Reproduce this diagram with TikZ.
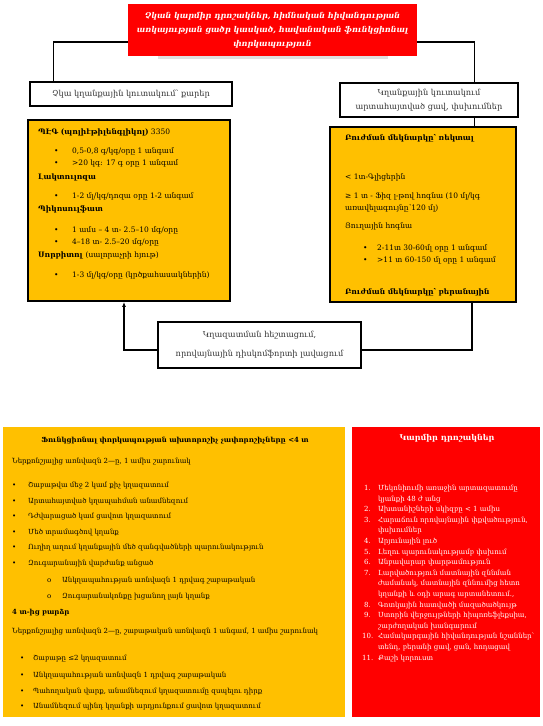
\documentclass[tikz,border=0pt]{standalone}
\usepackage{fontspec}
\setmainfont{DejaVu Serif}
\usetikzlibrary{arrows.meta}
\definecolor{ylw}{RGB}{255,192,0}
\definecolor{rd}{RGB}{255,0,0}
\tikzset{
  tx/.style={anchor=base west, inner sep=0pt, font=\fontsize{7}{8}\selectfont},
  txc/.style={anchor=base, inner sep=0pt, font=\fontsize{7}{8}\selectfont},
  bx/.style={tx, font=\fontsize{7.5}{8}\selectfont},
  wt/.style={text=white},
  hdr/.style={draw, line width=1.4pt, fill=white, inner sep=0pt, align=center, font=\fontsize{8.2}{14}\selectfont, text=black!80},
  ybox/.style={draw, line width=1.8pt, fill=ylw, inner sep=0pt},
  area/.style={inner sep=0pt},
  conn/.style={line width=1.4pt},
}
\begin{document}
\begin{tikzpicture}[x=1pt,y=-1pt]
\useasboundingbox (0,0) rectangle (542,726);
% title
\fill[black!12] (158,55) rectangle (388,59);
\node[area, fill=rd, minimum width=289pt, minimum height=52pt, align=center, text=white,
  font=\fontsize{8}{14}\selectfont\bfseries\itshape] (title) at (272.5,30)
  {Չկան կարմիր դրոշակներ, հիմնական հիվանդության\\առկայության ցածր կասկած, հավանական ֆունկցիոնալ\\փորկապություն};
% header boxes
\node[hdr, minimum width=202pt, minimum height=24pt] (hdrL) at (131,94) {Չկա կղանքային կուտակում՝ քարեր};
\node[hdr, minimum width=178pt, minimum height=34pt] (hdrR) at (429,100) {Կղանքային կուտակում\\արտահայտված ցավ, փսխումներ};
% yellow boxes
\node[ybox, minimum width=202pt, minimum height=181pt] (boxL) at (129,210.5) {};
\node[ybox, minimum width=186pt, minimum height=175pt] (boxR) at (423,214.5) {};
% bottom box
\node[hdr, minimum width=203pt, minimum height=46pt, font=\fontsize{8.2}{19}\selectfont] (bot) at (259.5,345) {Կղազատման հեշտացում,\\որովայնային դիսկոմֆորտի լավացում};
% connectors
\draw[conn] ([yshift=-12pt]title.west) -| ([xshift=24pt]hdrL.north west);
\draw[conn] ([yshift=-12pt]title.east) -| ([xshift=-44pt]hdrR.north east);
\draw[conn] ([xshift=-44pt]hdrR.south east) -- ([xshift=-44pt]hdrR.south east |- boxR.north);
\draw[conn, -{Latex[length=5pt,width=4pt]}] ([yshift=-5pt]bot.west) -| ([xshift=-5pt]boxL.south);
\draw[conn] ([yshift=-5pt]bot.east) -| ([xshift=49pt]boxR.south);
% left yellow box text
\node[bx] (l1) at (38,134.5) {\textbf{ՊԷԳ (պոլիէթիլենգլիկոլ)} 3350};
\node[bx] (l2b) at (54,153.5) {•}; \node[bx] (l2) at (72,153.5) {0,5-0,8 գ/կգ/օրը 1 անգամ};
\node[bx] (l3b) at (54,165.5) {•}; \node[bx] (l3) at (72,165.5) {>20 կգ: 17 գ  օրը 1 անգամ};
\node[bx] (l4) at (38,179.5) {\textbf{Լակտուլոզա}};
\node[bx] (l5b) at (54,198.5) {•}; \node[bx] (l5) at (72,198.5) {1-2 մլ/կգ/դոզա օրը 1-2 անգամ};
\node[bx] (l6) at (38,211.5) {\textbf{Պիկոսուլֆատ}};
\node[bx] (l7b) at (54,232.5) {•}; \node[bx] (l7) at (72,232.5) {1 ամս – 4 տ- 2.5–10 մգ/օրը};
\node[bx] (l8b) at (54,244.5) {•}; \node[bx] (l8) at (72,244.5) {4–18 տ- 2.5–20 մգ/օրը};
\node[bx] (l9) at (38,257.5) {\textbf{Սորբիտոլ} (սալորաչրի հյութ)};
\node[bx] (l10b) at (54,277.5) {•}; \node[bx] (l10) at (72,277.5) {1-3 մլ/կգ/օրը (կրծքահասակներին)};
% right yellow box text
\node[bx] (r1) at (345,140.5) {\textbf{Բուժման մեկնարկը՝ ռեկտալ}};
\node[bx] (r2) at (345,179.5) {< 1տ-Գլիցերին};
\node[bx] (r3) at (345,198.5) {≥ 1 տ - Ֆիզ լ-թով հոգնա (10 մլ/կգ};
\node[bx] (r4) at (345,210.5) {առավելագույնը՝120 մլ)};
\node[bx] (r5) at (345,228.5) {Յուղային հոգնա};
\node[bx] (r6b) at (363,250.5) {•}; \node[bx] (r6) at (377,250.5) {2-11տ 30-60մլ օրը 1 անգամ};
\node[bx] (r7b) at (363,262.5) {•}; \node[bx] (r7) at (377,262.5) {>11 տ 60-150 մլ օրը 1 անգամ};
\node[bx] (r8) at (345,294.5) {\textbf{Բուժման մեկնարկը՝ բերանային}};
% bottom-left criteria
\node[area, fill=ylw, minimum width=342pt, minimum height=290pt] (crit) at (174,572) {};
\node[txc] (c0) at (175,442.5) {\textbf{Ֆունկցիոնալ փորկապության ախտորոշիչ չափորոշիչները <4 տ}};
\node[tx] (c1) at (12,463.5) {Ներքոնշյալից առնվազն 2—ը, 1 ամիս շարունակ};
\node[tx] (c2b) at (12,487.5) {•}; \node[tx] (c2) at (28,487.5) {Շաբաթվա մեջ 2 կամ քիչ կղազատում};
\node[tx] (c3b) at (12,503) {•}; \node[tx] (c3) at (28,503) {Արտահայտված կղապահման անամնեզում};
\node[tx] (c4b) at (12,518.5) {•}; \node[tx] (c4) at (28,518.5) {Դժվարացած կամ ցավոտ կղազատում};
\node[tx] (c5b) at (12,534) {•}; \node[tx] (c5) at (28,534) {Մեծ տրամագծով կղանք};
\node[tx] (c6b) at (12,549.5) {•}; \node[tx] (c6) at (28,549.5) {Ուղիղ աղում կղանքային մեծ զանգվածների պարունակություն};
\node[tx] (c7b) at (12,565) {•}; \node[tx] (c7) at (28,565) {Զուգարանային վարժանք անցած};
\node[tx] (c8b) at (47,582.5) {o}; \node[tx] (c8) at (62,582.5) {Անկղապահության առնվազն 1 դրվագ շաբաթական};
\node[tx] (c9b) at (47,598.5) {o}; \node[tx] (c9) at (62,598.5) {Զուգարանակոնքը խցանող լայն կղանք};
\node[tx] (c10) at (12,614.5) {\textbf{4 տ-ից բարձր}};
\node[tx] (c11) at (12,633.5) {Ներքոնշյալից առնվազն 2—ը, շաբաթական առնվազն 1 անգամ, 1 ամիս շարունակ};
\node[tx] (c12b) at (20,660.5) {•}; \node[tx] (c12) at (33,660.5) {Շաբաթը ≤2 կղազատում};
\node[tx] (c13b) at (20,677.5) {•}; \node[tx] (c13) at (33,677.5) {Անկղապահության առնվազն 1 դրվագ շաբաթական};
\node[tx] (c14b) at (20,693.5) {•}; \node[tx] (c14) at (33,693.5) {Պահողական վարք, անամնեզում կղազատումը զսպելու դիրք};
\node[tx] (c15b) at (20,708.5) {•}; \node[tx] (c15) at (33,708.5) {Անամնեզում պինդ կղանքի արդյունքում ցավոտ կղազատում};
% red flags
\node[area, fill=rd, minimum width=188pt, minimum height=290pt] (flags) at (446,572) {};
\node[txc, wt, font=\fontsize{8}{9}\selectfont] (f0) at (447,440) {\textbf{Կարմիր դրոշակներ}};
\node[tx, wt] (fn1) at (364,490.5) {1.};  \node[tx, wt] (ft1) at (378,490.5) {Մեկոնիումի առաջին արտազատումը};
\node[tx, wt] (ft1b) at (378,501.1) {կյանքի 48 ժ անց};
\node[tx, wt] (fn2) at (364,511.7) {2.};  \node[tx, wt] (ft2) at (378,511.7) {Ախտանիշների սկիզբը  < 1 ամիս};
\node[tx, wt] (fn3) at (364,522.3) {3.};  \node[tx, wt] (ft3) at (378,522.3) {Հարաճուն որովայնային փքվածություն,};
\node[tx, wt] (ft3b) at (378,532.9) {փսխումներ};
\node[tx, wt] (fn4) at (364,543.5) {4.};  \node[tx, wt] (ft4) at (378,543.5) {Արյունային լուծ};
\node[tx, wt] (fn5) at (364,554.1) {5.};  \node[tx, wt] (ft5) at (378,554.1) {Լեղու պարունակությամբ փսխում};
\node[tx, wt] (fn6) at (364,564.7) {6.};  \node[tx, wt] (ft6) at (378,564.7) {Անբավարար փարթամություն};
\node[tx, wt] (fn7) at (364,575.3) {7.};  \node[tx, wt] (ft7) at (378,575.3) {Լարվածություն մատնային զննման};
\node[tx, wt] (ft7b) at (378,585.9) {ժամանակ, մատնային զննումից հետո};
\node[tx, wt] (ft7c) at (378,596.5) {կղանքի և օդի  արագ արտանետում.,};
\node[tx, wt] (fn8) at (364,607.1) {8.};  \node[tx, wt] (ft8) at (378,607.1) {Գոտկային հատվածի մազածածկույթ};
\node[tx, wt] (fn9) at (364,617.7) {9.};  \node[tx, wt] (ft9) at (378,617.7) {Ստորին վերջույթների հիպոռեֆլեքսիա,};
\node[tx, wt] (ft9b) at (378,628.3) {շարժողական խանգարում};
\node[tx, wt] (fn10) at (362,638.9) {10.}; \node[tx, wt] (ft10) at (378,638.9) {Համակարգային հիվանդության նշաններ՝};
\node[tx, wt] (ft10b) at (378,649.5) {տենդ, բերանի ցավ, ցան, հոդացավ};
\node[tx, wt] (fn11) at (362,660.1) {11.}; \node[tx, wt] (ft11) at (378,660.1) {Քաշի կորուստ};
\end{tikzpicture}
\end{document}
